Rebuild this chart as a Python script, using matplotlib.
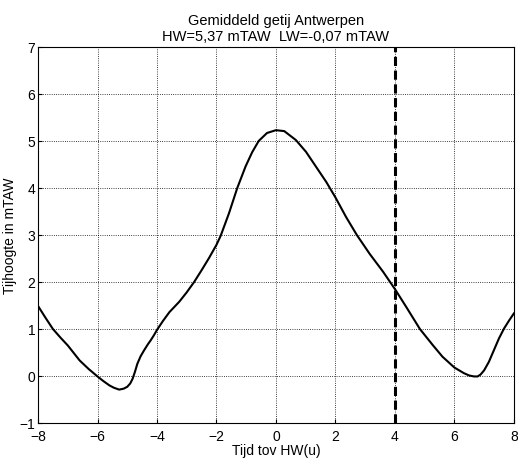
import matplotlib
matplotlib.use('Agg')
import matplotlib.pyplot as plt

# gemiddeld getij Antwerpen
tijd = [-8, -7.75, -7.5, -7.25, -7, -6.8, -6.6, -6.3, -6, -5.8, -5.6, -5.45, -5.27,
        -5.12, -5, -4.9, -4.82, -4.74, -4.66, -4.55, -4.43, -4.3, -4.21, -4.1, -4,
        -3.8, -3.58, -3.25, -3, -2.75, -2.5, -2.25, -2, -1.86, -1.58, -1.3, -1.02,
        -0.8, -0.58, -0.3, 0, 0.28, 0.67, 1.01, 1.35, 1.69, 2, 2.36, 2.72, 3.15,
        3.6, 4, 4.38, 4.84, 5.27, 5.6, 6, 6.32, 6.5, 6.66, 6.78, 6.88, 7.0, 7.16,
        7.33, 7.5, 7.67, 7.85, 8]
hoogte = [1.49, 1.24, 1.00, 0.82, 0.65, 0.49, 0.33, 0.15, -0.01, -0.11, -0.20, -0.25, -0.29,
          -0.27, -0.23, -0.16, -0.06, 0.09, 0.26, 0.42, 0.55, 0.68, 0.76, 0.87, 0.98,
          1.17, 1.36, 1.58, 1.78, 2.00, 2.25, 2.51, 2.79, 2.98, 3.46, 4.00, 4.46,
          4.76, 5.00, 5.17, 5.23, 5.21, 5.02, 4.77, 4.45, 4.13, 3.80, 3.38, 3.00, 2.60,
          2.22, 1.85, 1.47, 1.00, 0.66, 0.41, 0.18, 0.06, 0.01, -0.01, -0.01, 0.03, 0.12, 0.30,
          0.55, 0.80, 1.01, 1.19, 1.33]
t_lijn = 4

plt.rcParams['font.family'] = ['Liberation Sans', 'DejaVu Sans']
fig = plt.figure(figsize=(5.18, 4.60), dpi=100)
ax = fig.add_axes([0.0734, 0.0783, 0.9186, 0.8174])

ax.plot(tijd, hoogte, '-', color='k', linewidth=1.5)
ax.axvline(t_lijn, color='k', linestyle=(0, (3, 1.5)), linewidth=2.2)

ax.set_xlim(-8, 8)
ax.set_ylim(-1, 7)
ax.set_xticks(range(-8, 9, 2))
ax.set_yticks(range(-1, 8))
ax.grid(True, linestyle=':', color='k', linewidth=0.6)
ax.tick_params(direction='in', labelsize=10, length=3)
ax.tick_params(axis='x', pad=4)
ax.tick_params(axis='y', pad=2)
for s in ax.spines.values():
    s.set_linewidth(0.8)

ax.set_xlabel('Tijd tov HW(u)', fontsize=10, labelpad=0)
ax.set_ylabel('Tijhoogte in mTAW', fontsize=10, labelpad=2)
ax.set_title('Gemiddeld getij Antwerpen\nHW=5,37 mTAW  LW=-0,07 mTAW', fontsize=10.5,
             linespacing=1.15, pad=5)

fig.savefig('out.png', dpi=100)
